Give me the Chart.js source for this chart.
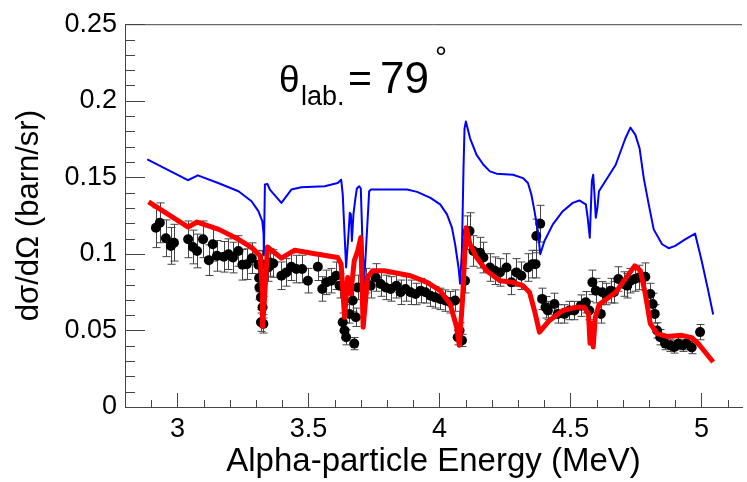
<!DOCTYPE html>
<html lang="en">
<head>
  <meta charset="UTF-8" />
  <title>Cross section at 79 deg</title>
  <script src="https://cdn.jsdelivr.net/npm/chart.js"></script>
  <style>
    body { margin: 0; background: white; }
    #chartContainer { width: 747px; height: 482px; }
  </style>
</head>
<body>
  <div id="chartContainer">
    <canvas id="xsChart" width="747" height="482"></canvas>
  </div>

  <script>
    // blue calculation
    const blueE = [2.885, 3.040, 3.078, 3.158, 3.233, 3.283, 3.309, 3.324, 3.329, 3.330, 3.334, 3.344, 3.353, 3.397, 3.435, 3.473, 3.562, 3.612, 3.625, 3.631, 3.638, 3.644, 3.653, 3.658, 3.662, 3.666, 3.672, 3.678, 3.685, 3.694, 3.700, 3.707, 3.713, 3.723, 3.732, 3.738, 3.877, 3.915, 3.966, 4.003, 4.029, 4.048, 4.060, 4.073, 4.079, 4.086, 4.092, 4.096, 4.101, 4.117, 4.142, 4.168, 4.193, 4.218, 4.281, 4.319, 4.338, 4.351, 4.363, 4.376, 4.385, 4.401, 4.433, 4.471, 4.509, 4.534, 4.559, 4.566, 4.574, 4.582, 4.587, 4.592, 4.597, 4.603, 4.609, 4.673, 4.710, 4.729, 4.748, 4.764, 4.780, 4.799, 4.818, 4.850, 4.875, 4.900, 4.938, 4.976, 5.001, 5.026, 5.045];
    const blueY = [0.1617, 0.1481, 0.1513, 0.1461, 0.1409, 0.1344, 0.1279, 0.1214, 0.1130, 0.0990, 0.1453, 0.1456, 0.1420, 0.1333, 0.1420, 0.1435, 0.1442, 0.1463, 0.1485, 0.1390, 0.1130, 0.0911, 0.1130, 0.1268, 0.1260, 0.1084, 0.1260, 0.1344, 0.1427, 0.1442, 0.1427, 0.1041, 0.0825, 0.1130, 0.1409, 0.1420, 0.1420, 0.1405, 0.1366, 0.1323, 0.1258, 0.1171, 0.1063, 0.0911, 0.0805, 0.1019, 0.1560, 0.1820, 0.1864, 0.1755, 0.1647, 0.1582, 0.1539, 0.1524, 0.1517, 0.1495, 0.1463, 0.1388, 0.1279, 0.1149, 0.0998, 0.1084, 0.1193, 0.1279, 0.1333, 0.1349, 0.1323, 0.1236, 0.1106, 0.1474, 0.1517, 0.1388, 0.1236, 0.1301, 0.1409, 0.1582, 0.1755, 0.1825, 0.1777, 0.1690, 0.1495, 0.1323, 0.1160, 0.1063, 0.1037, 0.1052, 0.1095, 0.1132, 0.0955, 0.0760, 0.0604];

    // red calculation
    const redE = [2.890, 3.041, 3.075, 3.158, 3.233, 3.284, 3.316, 3.324, 3.325, 3.332, 3.344, 3.397, 3.448, 3.536, 3.612, 3.625, 3.638, 3.650, 3.662, 3.675, 3.688, 3.700, 3.709, 3.726, 3.745, 3.789, 3.890, 3.953, 4.003, 4.041, 4.066, 4.076, 4.088, 4.102, 4.117, 4.142, 4.180, 4.231, 4.281, 4.319, 4.344, 4.363, 4.382, 4.420, 4.471, 4.521, 4.553, 4.569, 4.575, 4.582, 4.587, 4.595, 4.610, 4.673, 4.723, 4.746, 4.767, 4.786, 4.805, 4.831, 4.869, 4.925, 4.963, 4.988, 5.014, 5.045];
    const redY = [0.1340, 0.1175, 0.1208, 0.1160, 0.1095, 0.1041, 0.0987, 0.0760, 0.0526, 0.0695, 0.1045, 0.0972, 0.1024, 0.0998, 0.0976, 0.0933, 0.0586, 0.0846, 0.0740, 0.0955, 0.1019, 0.1106, 0.0521, 0.0846, 0.0890, 0.0890, 0.0857, 0.0814, 0.0760, 0.0673, 0.0521, 0.0403, 0.0695, 0.1171, 0.1063, 0.0976, 0.0890, 0.0825, 0.0814, 0.0792, 0.0749, 0.0630, 0.0489, 0.0565, 0.0630, 0.0651, 0.0651, 0.0608, 0.0416, 0.0545, 0.0392, 0.0586, 0.0669, 0.0749, 0.0868, 0.0922, 0.0890, 0.0738, 0.0544, 0.0479, 0.0461, 0.0468, 0.0453, 0.0414, 0.0359, 0.0294];

    // measured points
    const dataE = [2.918, 2.933, 2.956, 2.975, 2.987, 3.041, 3.059, 3.075, 3.098, 3.120, 3.135, 3.151, 3.177, 3.195, 3.212, 3.233, 3.248, 3.265, 3.284, 3.309, 3.312, 3.313, 3.319, 3.325, 3.319, 3.328, 3.322, 3.347, 3.353, 3.366, 3.397, 3.416, 3.435, 3.454, 3.476, 3.498, 3.536, 3.553, 3.568, 3.587, 3.606, 3.619, 3.631, 3.638, 3.644, 3.656, 3.669, 3.675, 3.681, 3.688, 3.719, 3.738, 3.757, 3.776, 3.795, 3.814, 3.836, 3.852, 3.871, 3.890, 3.909, 3.928, 3.947, 3.966, 3.984, 4.003, 4.022, 4.041, 4.060, 4.070, 4.077, 4.086, 4.098, 4.105, 4.115, 4.130, 4.155, 4.168, 4.193, 4.212, 4.231, 4.256, 4.275, 4.294, 4.313, 4.338, 4.355, 4.367, 4.370, 4.385, 4.392, 4.405, 4.414, 4.439, 4.452, 4.477, 4.496, 4.515, 4.540, 4.559, 4.572, 4.584, 4.597, 4.616, 4.622, 4.635, 4.654, 4.666, 4.683, 4.704, 4.717, 4.729, 4.746, 4.761, 4.786, 4.805, 4.814, 4.822, 4.831, 4.843, 4.862, 4.881, 4.897, 4.912, 4.928, 4.944, 4.963, 4.995];
    const dataY = [0.1171, 0.1203, 0.1102, 0.1052, 0.1073, 0.1095, 0.1045, 0.1019, 0.1095, 0.0959, 0.1063, 0.0987, 0.0981, 0.0998, 0.0976, 0.1019, 0.0929, 0.0933, 0.0972, 0.0929, 0.0842, 0.0781, 0.0716, 0.0651, 0.0554, 0.0543, 0.0933, 0.0911, 0.0944, 0.0937, 0.0857, 0.0879, 0.0916, 0.0901, 0.0901, 0.0825, 0.0916, 0.0771, 0.0814, 0.0825, 0.0857, 0.0792, 0.0554, 0.0500, 0.0456, 0.0608, 0.0695, 0.0414, 0.0586, 0.0781, 0.0825, 0.0792, 0.0846, 0.0803, 0.0781, 0.0771, 0.0792, 0.0749, 0.0771, 0.0749, 0.0738, 0.0760, 0.0749, 0.0727, 0.0716, 0.0706, 0.0695, 0.0684, 0.0695, 0.0456, 0.0500, 0.0435, 0.0825, 0.1138, 0.1149, 0.1019, 0.1008, 0.0976, 0.0911, 0.0890, 0.0879, 0.0911, 0.0814, 0.0879, 0.0857, 0.0911, 0.0933, 0.0933, 0.1117, 0.1197, 0.0706, 0.0651, 0.0630, 0.0673, 0.0608, 0.0608, 0.0630, 0.0630, 0.0662, 0.0684, 0.0630, 0.0814, 0.0760, 0.0608, 0.0749, 0.0738, 0.0760, 0.0749, 0.0836, 0.0803, 0.0792, 0.0825, 0.0836, 0.0846, 0.0851, 0.0738, 0.0673, 0.0608, 0.0500, 0.0456, 0.0414, 0.0403, 0.0392, 0.0414, 0.0403, 0.0414, 0.0388, 0.0489];
    const dataErr = [0.013, 0.013, 0.012, 0.012, 0.012, 0.012, 0.011, 0.011, 0.012, 0.010, 0.011, 0.010, 0.010, 0.010, 0.010, 0.010, 0.010, 0.010, 0.010, 0.009, 0.009, 0.008, 0.008, 0.007, 0.006, 0.006, 0.009, 0.009, 0.009, 0.009, 0.009, 0.009, 0.009, 0.009, 0.009, 0.008, 0.009, 0.008, 0.008, 0.008, 0.009, 0.008, 0.006, 0.005, 0.005, 0.006, 0.007, 0.004, 0.006, 0.008, 0.008, 0.008, 0.009, 0.008, 0.008, 0.008, 0.008, 0.008, 0.008, 0.008, 0.007, 0.008, 0.007, 0.007, 0.007, 0.007, 0.007, 0.007, 0.007, 0.005, 0.005, 0.004, 0.008, 0.011, 0.012, 0.010, 0.010, 0.010, 0.009, 0.009, 0.009, 0.009, 0.008, 0.009, 0.009, 0.009, 0.009, 0.009, 0.011, 0.012, 0.007, 0.007, 0.006, 0.007, 0.006, 0.006, 0.006, 0.006, 0.007, 0.007, 0.006, 0.008, 0.008, 0.006, 0.007, 0.007, 0.008, 0.007, 0.008, 0.008, 0.008, 0.008, 0.008, 0.008, 0.009, 0.007, 0.007, 0.006, 0.005, 0.005, 0.004, 0.004, 0.004, 0.004, 0.004, 0.004, 0.004, 0.005];

    const yTickLabels = ["0", "0.05", "0.1", "0.15", "0.2", "0.25"];
    const xTickLabels = ["3", "3.5", "4", "4.5", "5"];

    const FONT = "'Liberation Sans', Arial, sans-serif";
    const pairs = (xs, ys) => xs.map((x, i) => ({ x: x, y: ys[i] }));

    // ROOT style inward ticks, top frame line, error bars
    const frameAndBars = {
      id: "frameAndBars",
      beforeDatasetsDraw(chart) {
        const ctx = chart.ctx, xs = chart.scales.x, ys = chart.scales.y;
        ctx.save();
        ctx.strokeStyle = "#444";
        ctx.lineWidth = 1;
        dataE.forEach((e, i) => {
          const px = Math.round(xs.getPixelForValue(e)) + 0.5;
          const top = ys.getPixelForValue(dataY[i] + dataErr[i]);
          const bot = ys.getPixelForValue(dataY[i] - dataErr[i]);
          ctx.beginPath();
          ctx.moveTo(px, top); ctx.lineTo(px, bot);
          ctx.moveTo(px - 4, top); ctx.lineTo(px + 4, top);
          ctx.moveTo(px - 4, bot); ctx.lineTo(px + 4, bot);
          ctx.stroke();
        });
        ctx.restore();
      },
      afterDraw(chart) {
        const ctx = chart.ctx, xs = chart.scales.x, ys = chart.scales.y, a = chart.chartArea;
        ctx.save();
        ctx.strokeStyle = "#444";
        ctx.lineWidth = 1;
        ctx.beginPath();
        ctx.moveTo(a.left, a.top + 0.5); ctx.lineTo(a.right, a.top + 0.5);
        for (let k = 29; k <= 51; k++) {
          const px = Math.round(xs.getPixelForValue(k / 10)) + 0.5;
          const len = k % 5 === 0 ? 14 : 7;
          ctx.moveTo(px, a.bottom); ctx.lineTo(px, a.bottom - len);
        }
        for (let k = 0; k <= 25; k++) {
          const py = Math.round(ys.getPixelForValue(k / 100)) + 0.5;
          const len = k % 5 === 0 ? 20 : 10;
          ctx.moveTo(a.left, py); ctx.lineTo(a.left + len, py);
        }
        ctx.stroke();

        // angle label
        ctx.fillStyle = "#000";
        ctx.textBaseline = "alphabetic";
        ctx.font = "37px " + FONT;
        ctx.fillText("\u03b8", 279, 92);
        ctx.font = "27px " + FONT;
        ctx.fillText("lab.", 301, 105);
        ctx.font = "41px " + FONT;
        ctx.fillText("=", 348, 92);
        ctx.font = "44px " + FONT;
        ctx.fillText("79", 380, 93);
        ctx.font = "30px " + FONT;
        ctx.fillText("\u00b0", 435, 67);
        ctx.restore();
      }
    };

    new Chart(document.getElementById("xsChart"), {
      type: "scatter",
      data: {
        datasets: [
          {
            label: "calc 2",
            data: pairs(redE, redY),
            showLine: true,
            borderColor: "rgb(255,0,0)",
            borderWidth: 5,
            borderJoinStyle: "round",
            pointRadius: 0,
            tension: 0,
            order: 0
          },
          {
            label: "calc 1",
            data: pairs(blueE, blueY),
            showLine: true,
            borderColor: "rgb(0,0,255)",
            borderWidth: 2,
            borderJoinStyle: "round",
            pointRadius: 0,
            tension: 0,
            order: 1
          },
          {
            label: "data",
            data: pairs(dataE, dataY),
            showLine: false,
            pointRadius: 5,
            pointBackgroundColor: "#000",
            pointBorderWidth: 0,
            order: 2
          }
        ]
      },
      options: {
        responsive: false,
        animation: false,
        layout: { padding: { top: 22, right: 0, left: 0, bottom: 0 } },
        plugins: { legend: { display: false }, tooltip: { enabled: false } },
        scales: {
          x: {
            type: "linear",
            min: 2.8,
            max: 5.155,
            afterFit(s) { s.height = 75; },
            grid: { display: false, drawTicks: false },
            border: { display: true, color: "#444", width: 1 },
            ticks: {
              stepSize: 0.5,
              includeBounds: false,
              autoSkip: false,
              maxRotation: 0,
              padding: 6,
              color: "#000",
              font: { family: FONT, size: 27 },
              callback: (v) => xTickLabels.find(t => Math.abs(+t - v) < 1e-6) || ""
            },
            title: {
              display: true,
              text: "Alpha-particle Energy (MeV)",
              color: "#000",
              font: { family: FONT, size: 33 },
              padding: { top: 0, bottom: 0 }
            }
          },
          y: {
            min: 0,
            max: 0.25,
            afterFit(s) { s.width = 125; },
            grid: { display: false, drawTicks: false },
            border: { display: true, color: "#444", width: 1 },
            ticks: {
              stepSize: 0.05,
              padding: 8,
              color: "#000",
              font: { family: FONT, size: 27 },
              callback: (v) => yTickLabels.find(t => Math.abs(+t - v) < 1e-6) || ""
            },
            title: {
              display: true,
              text: "d\u03c3/d\u03a9 (barn/sr)",
              color: "#000",
              font: { family: FONT, size: 31 },
              padding: { top: 11, bottom: 0 }
            }
          }
        }
      },
      plugins: [frameAndBars]
    });
  </script>
</body>
</html>
